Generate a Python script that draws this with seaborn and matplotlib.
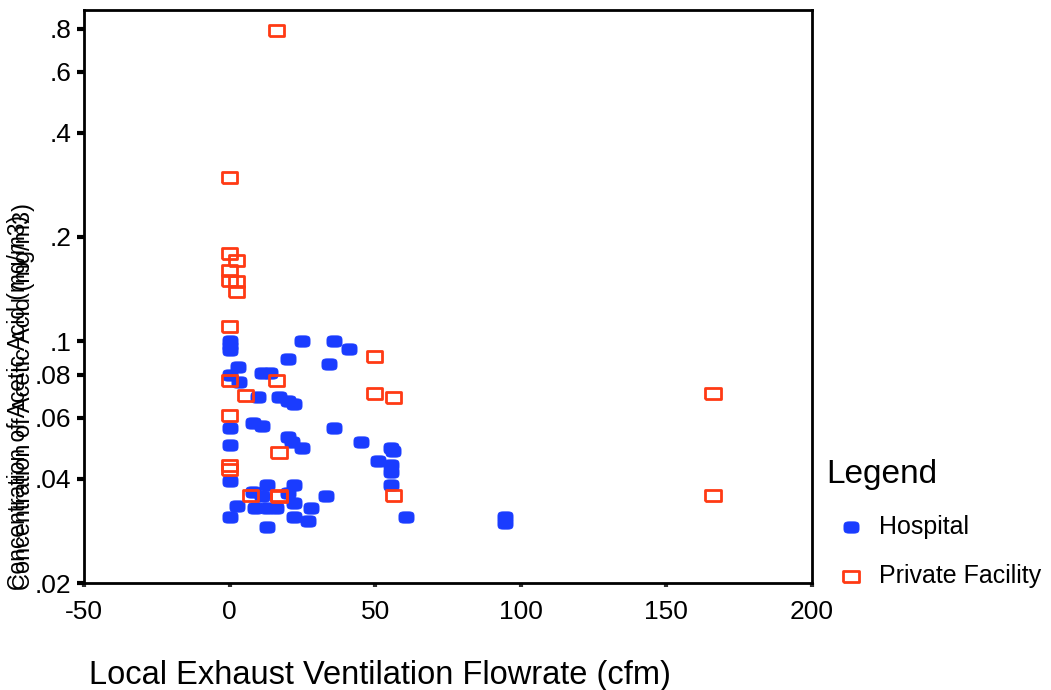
import numpy as np
import pandas as pd
import matplotlib
matplotlib.use('Agg')
from matplotlib import pyplot as plt
import seaborn as sns

# 医院组（蓝色实心点）
hosp_x = [0, 0, 0, 3, 0, 3.4, 11, 14, 9.6, 17, 20, 22, 25, 20, 36, 41, 34,
          0, 0, 8, 11, 20, 21.5, 25, 36, 45, 55.5, 56, 51, 55.5, 55.5, 55.5, 60.7,
          0, 13, 22, 8, 20, 33, 2.4, 0, 8.6, 13, 16, 22, 22, 28, 27, 13, 11,
          94.7, 94.7]
hosp_y = [0.100, 0.097, 0.094, 0.084, 0.080, 0.076, 0.081, 0.081, 0.069, 0.069, 0.067, 0.066, 0.100, 0.089, 0.100, 0.095, 0.086,
          0.056, 0.050, 0.058, 0.057, 0.053, 0.051, 0.049, 0.056, 0.051, 0.049, 0.048, 0.045, 0.044, 0.042, 0.0385, 0.031,
          0.0395, 0.0385, 0.0385, 0.0367, 0.0365, 0.0358, 0.0333, 0.031, 0.033, 0.033, 0.033, 0.034, 0.031, 0.033, 0.0303, 0.029, 0.0358,
          0.031, 0.0298]

# 私人机构组（红色空心方块）
priv_x = [16, 0, 0, 2.4, 0, 2.4, 0, 2.4, 0, 49.7, 0, 16, 5.5, 49.7, 56.2, 166,
          0, 17, 0, 0, 7.2, 17, 17, 56.2, 166]
priv_y = [0.79, 0.297, 0.179, 0.171, 0.160, 0.149, 0.150, 0.139, 0.110, 0.090, 0.0768, 0.077, 0.0696, 0.0705, 0.0687, 0.0705,
          0.061, 0.0478, 0.0438, 0.0427, 0.0358, 0.0358, 0.0356, 0.0358, 0.0358]

x_ticks = [-50, 0, 50, 100, 150, 200]
y_ticks = [0.02, 0.04, 0.06, 0.08, 0.1, 0.2, 0.4, 0.6, 0.8]
y_labels = ['.02', '.04', '.06', '.08', '.1', '.2', '.4', '.6', '.8']

sns.set_style('white')
plt.rcParams['font.family'] = ['Liberation Sans', 'DejaVu Sans']
plt.rcParams['text.color'] = 'black'
plt.rcParams['axes.labelcolor'] = 'black'
plt.rcParams['xtick.color'] = 'black'
plt.rcParams['ytick.color'] = 'black'

fig = plt.figure(figsize=(10.51, 6.90), dpi=100)
ax = fig.add_axes([0.0799, 0.155, 0.6927, 0.8305])

blue = '#1a3cff'
red = '#ff3a14'
# 圆角矩形的点形状（比圆略宽）
t = np.linspace(0, 2 * np.pi, 60)
blob = list(zip(np.sign(np.cos(t)) * np.abs(np.cos(t)) ** 0.5,
                0.75 * np.sign(np.sin(t)) * np.abs(np.sin(t)) ** 0.5))
rect = [(-1, -0.72), (1, -0.72), (1, 0.72), (-1, 0.72), (-1, -0.72)]

sns.scatterplot(x=hosp_x, y=hosp_y, ax=ax, marker=blob, s=120, color=blue,
                edgecolor=blue, linewidth=0.5, label='Hospital', zorder=3)
sns.scatterplot(x=priv_x, y=priv_y, ax=ax, marker=rect, s=120, facecolor='none',
                edgecolor=red, linewidth=2, label='Private Facility', zorder=4)

ax.set_yscale('log')
ax.set_xlim(-50, 200)
ax.set_ylim(0.02, 0.905)
ax.set_xticks(x_ticks)
ax.set_xticklabels([str(t) for t in x_ticks], fontsize=19)
ax.set_yticks(y_ticks)
ax.set_yticklabels(y_labels, fontsize=19)
ax.minorticks_off()
ax.tick_params(axis='y', direction='out', length=5, width=3, color='black', pad=4, left=True)
ax.tick_params(axis='x', direction='out', length=3, width=3, color='#333333', pad=9, bottom=True)
for sp in ax.spines.values():
    sp.set_color('black')
    sp.set_linewidth(2)

ax.set_xlabel('Local Exhaust Ventilation Flowrate (cfm)', fontsize=23.5)
ax.xaxis.set_label_coords(0.407, -0.135)

# y 轴标题在原图里是两层叠在一起的
ylab = 'Concentration of Acetic Acid (mg/m3)'
fig.text(0.018, 0.145, ylab, rotation=90, fontsize=16.4, ha='center', va='bottom')
fig.text(0.022, 0.145, ylab, rotation=90, fontsize=16.9, ha='center', va='bottom')

leg = ax.legend(title='Legend', loc='upper left', bbox_to_anchor=(0.786, 0.335),
                bbox_transform=fig.transFigure, frameon=False, fontsize=18,
                title_fontsize=24, labelspacing=1.0, handletextpad=0.12,
                borderaxespad=0, alignment='left', borderpad=0)

fig.savefig('out.png', dpi=100)
